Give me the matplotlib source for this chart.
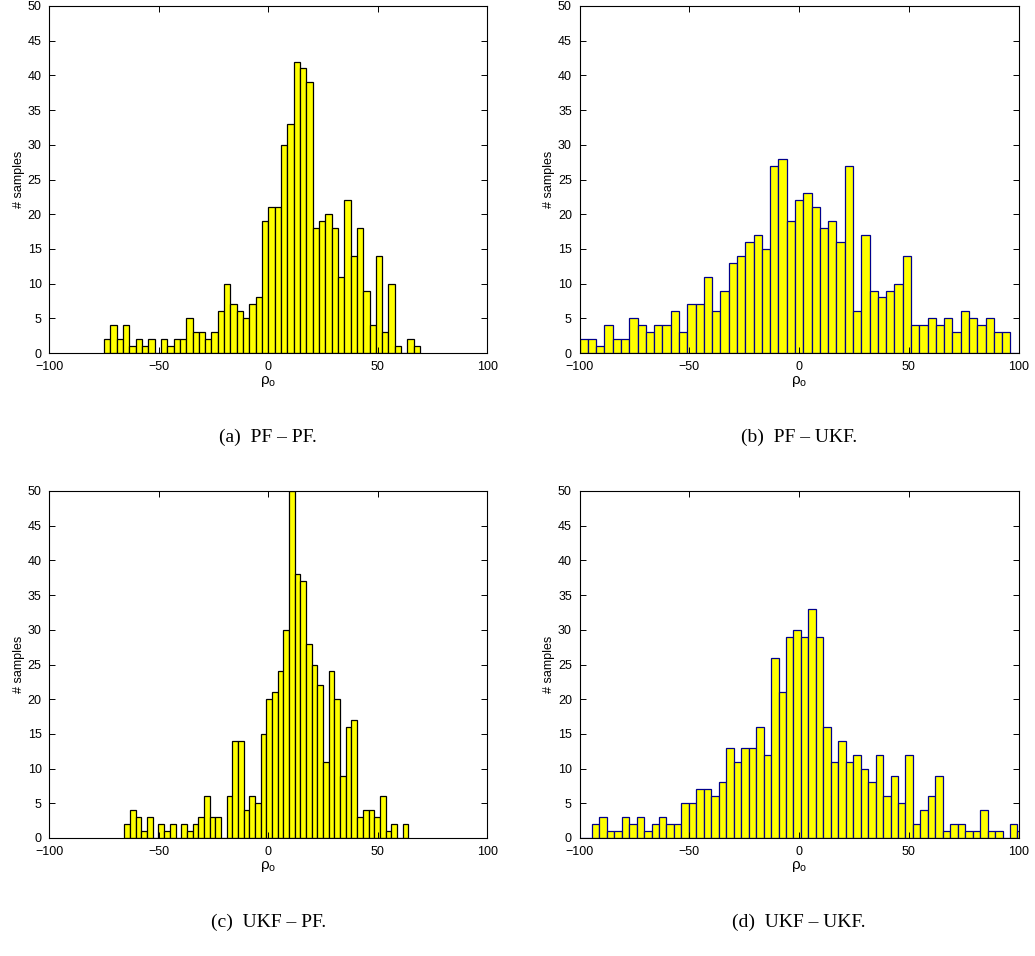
import numpy as np
import matplotlib
matplotlib.use('Agg')
import matplotlib.pyplot as plt

plt.rcParams['font.family'] = ['Liberation Sans', 'DejaVu Sans']

# bin ranges (first edge, last edge) and counts
pf_pf_range = (-75.0, 69.3)
pf_pf_counts = [2, 4, 2, 4, 1, 2, 1, 2, 0, 2, 1, 2, 2, 5, 3, 3, 2, 3, 6, 10,
                7, 6, 5, 7, 8, 19, 21, 21, 30, 33, 42, 41, 39, 18, 19, 20, 18, 11, 22, 14,
                18, 9, 4, 14, 3, 10, 1, 0, 2, 1]

pf_ukf_range = (-100.0, 100.0)
pf_ukf_counts = [2, 2, 1, 4, 2, 2, 5, 4, 3, 4, 4, 6, 3, 7, 7, 11, 6, 9, 13, 14,
                 16, 17, 15, 27, 28, 19, 22, 23, 21, 18, 19, 16, 27, 6, 17, 9, 8, 9, 10, 14,
                 4, 4, 5, 4, 5, 3, 6, 5, 4, 5, 3, 3, 0]

ukf_pf_range = (-65.7, 63.9)
ukf_pf_counts = [2, 4, 3, 1, 3, 0, 2, 1, 2, 0, 2, 1, 2, 3, 6, 3, 3, 0, 6, 14,
                 14, 4, 6, 5, 15, 20, 21, 24, 30, 50, 38, 37, 28, 25, 22, 11, 24, 20, 9, 16,
                 17, 3, 4, 4, 3, 6, 1, 2, 0, 2]

ukf_ukf_range = (-101.2, 102.85)
ukf_ukf_counts = [0, 0, 2, 3, 1, 1, 3, 2, 3, 1, 2, 3, 2, 2, 5, 5, 7, 7, 6, 8,
                  13, 11, 13, 13, 16, 12, 26, 21, 29, 30, 29, 33, 29, 16, 11, 14, 11, 12, 10, 8,
                  12, 6, 9, 5, 12, 2, 4, 6, 9, 1, 2, 2, 1, 1, 4, 1, 1, 0, 2, 1]

captions = ['(a)  PF \u2013 PF.', '(b)  PF \u2013 UKF.', '(c)  UKF \u2013 PF.', '(d)  UKF \u2013 UKF.']

fig = plt.figure(figsize=(10.35, 9.56), dpi=100)

W, H = 1035.0, 956.0
panels = [
    (pf_pf_range, pf_pf_counts, 'black', (49.3, 487.3, 6, 353)),
    (pf_ukf_range, pf_ukf_counts, '#00008B', (579.5, 1018.7, 6, 353)),
    (ukf_pf_range, ukf_pf_counts, 'black', (49.3, 487.3, 491, 838)),
    (ukf_ukf_range, ukf_ukf_counts, '#00008B', (579.5, 1018.7, 491, 838)),
]

for (rng, counts, edge, box), cap in zip(panels, captions):
    x0, x1, y0, y1 = box
    ax = fig.add_axes([x0 / W, 1 - y1 / H, (x1 - x0) / W, (y1 - y0) / H])
    counts = np.array(counts)
    width = (rng[1] - rng[0]) / len(counts)
    left = rng[0] + width * np.arange(len(counts))
    ax.bar(left, counts, width=width, align='edge', color='#FFFF00',
           edgecolor=edge, linewidth=0.9)
    ax.set_xlim(-100, 100)
    ax.set_ylim(0, 50)
    ax.set_xticks([-100, -50, 0, 50, 100])
    ax.set_yticks(np.arange(0, 51, 5))
    ax.tick_params(direction='in', top=True, right=True, length=4, width=0.7,
                   labelsize=9, pad=5.5)
    for s in ax.spines.values():
        s.set_linewidth(0.8)
    ax.set_xlabel('\u03c1$_\\mathregular{o}$', fontsize=11, labelpad=1)
    ax.set_ylabel('# samples', fontsize=9, labelpad=2)
    cx = (x0 + x1) / 2 / W
    cy = 1 - (y1 + 84) / H
    fig.text(cx, cy, cap, ha='center', va='center', fontsize=14,
             family=['Liberation Serif', 'DejaVu Serif'])

fig.savefig('out.png', dpi=100)
